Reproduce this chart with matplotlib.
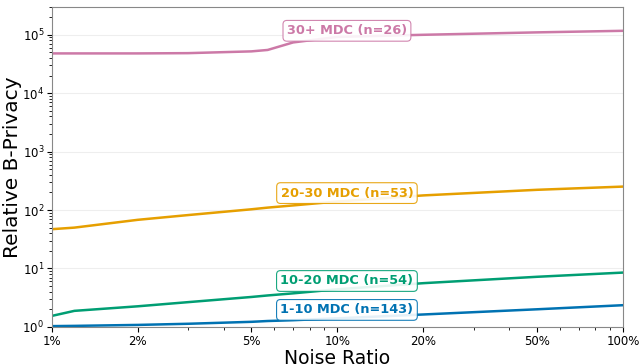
import matplotlib
matplotlib.use("Agg")
import matplotlib.pyplot as plt
from matplotlib.ticker import FuncFormatter

# noise ratio (%) and relative B-privacy per MDC group
noise = [1, 1.2, 2, 3, 5, 5.7, 7, 10, 20, 50, 100]
mdc_1_10 = [1.03, 1.04, 1.08, 1.13, 1.22, 1.26, 1.3, 1.4, 1.63, 2.0, 2.35]
mdc_10_20 = [1.54, 1.88, 2.25, 2.65, 3.25, 3.45, 3.75, 4.4, 5.6, 7.2, 8.5]
mdc_20_30 = [47, 50, 68, 82, 103, 110, 120, 140, 178, 222, 252]
mdc_30 = [4.8e4, 4.8e4, 4.8e4, 4.85e4, 5.2e4, 5.5e4, 7.4e4, 9.2e4, 1.0e5, 1.1e5, 1.17e5]

labels = ["1-10 MDC (n=143)", "10-20 MDC (n=54)", "20-30 MDC (n=53)", "30+ MDC (n=26)"]
colors = ["#0072B2", "#009E73", "#E69F00", "#CC79A7"]
series = [mdc_1_10, mdc_10_20, mdc_20_30, mdc_30]
label_y = [1.95, 6.1, 195, 1.17e5]
label_x = 10.8

fig = plt.figure(figsize=(6.39, 3.64), dpi=100)
ax = fig.add_axes([0.081, 0.102, 0.894, 0.879])

for vals, col, lab, ly in zip(series, colors, labels, label_y):
    ax.plot(noise, vals, color=col, linewidth=1.8)
    ax.text(label_x, ly, lab, color=col, fontsize=9.3, fontweight="bold",
            ha="center", va="center",
            bbox=dict(boxstyle="round,pad=0.3", facecolor="white", alpha=0.9,
                      edgecolor=col, linewidth=0.8))

ax.set_xscale("log")
ax.set_yscale("log")
ax.set_xlim(1, 100)
ax.set_ylim(1, 3e5)
ax.set_xticks([1, 2, 5, 10, 20, 50, 100])
ax.xaxis.set_major_formatter(FuncFormatter(lambda v, p: f"{v:g}%"))
ax.tick_params(labelsize=8.5, pad=2)
ax.grid(axis="y", which="major", color="#eeeeee", linewidth=0.8)
ax.set_axisbelow(True)
for s in ax.spines.values():
    s.set_color("#888888")

ax.set_xlabel("Noise Ratio", fontsize=13.5, labelpad=1)
ax.set_ylabel("Relative B-Privacy", fontsize=14.5, labelpad=0)

fig.savefig("out.png", dpi=100)
